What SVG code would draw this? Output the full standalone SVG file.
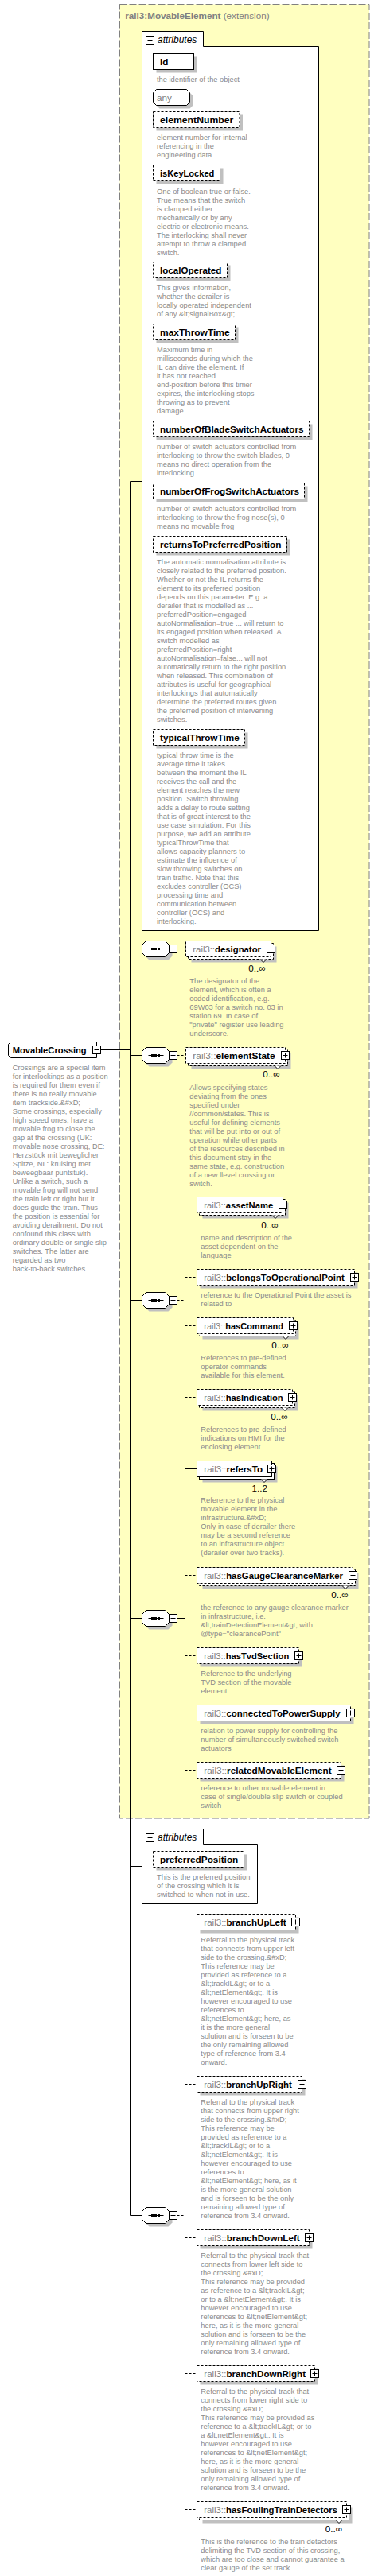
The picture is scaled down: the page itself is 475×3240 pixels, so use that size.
<svg xmlns="http://www.w3.org/2000/svg" xmlns:xlink="http://www.w3.org/1999/xlink" width="475" height="3240" viewBox="0 0 475 3240">
<style>
.d{font-family:"Liberation Sans",Arial,sans-serif;font-size:9.3px;fill:#8a8a8a}
.n{font-family:"Liberation Sans",Arial,sans-serif;font-size:11.7px;font-weight:bold;fill:#000}
.p{font-weight:normal;fill:#808080}
.m{font-family:"Liberation Sans",Arial,sans-serif;font-size:11.7px;fill:#000}
.sh{fill:#c0c0c0;stroke:none}
.bx{fill:#fff;stroke:#000;stroke-width:1}
.dbx{fill:#fff;stroke:#000;stroke-width:1;stroke-dasharray:3,2}
.ln{stroke:#000;stroke-width:1;fill:none}
.dl{stroke:#000;stroke-width:1;fill:none;stroke-dasharray:3,2}
.t{font-family:"Liberation Sans",Arial,sans-serif;font-size:11.7px;fill:#808080}
.at{font-family:"Liberation Sans",Arial,sans-serif;font-size:12px;font-style:italic;fill:#000}
</style>
<defs>
<g id="plus"><rect x="-5" y="-5" width="10" height="10" fill="#fff" stroke="#000"/><path d="M-3,0H3M0,-3V3" stroke="#000"/></g>
<g id="minus"><rect x="-5" y="-5" width="10" height="10" fill="#fff" stroke="#000"/><path d="M-3,0H3" stroke="#000"/></g>
<g id="seq">
<path class="sh" d="M9,-6H33L38,-1V9L33,14H9L4,9V-1Z"/>
<path d="M5,-10H29L34,-5V5L29,10H5L0,5V-5Z" fill="#fff" stroke="#000"/>
<path d="M8,0H27" stroke="#000"/>
<rect x="11.5" y="-1.5" width="3" height="3" fill="#000"/>
<rect x="15.5" y="-1.5" width="3" height="3" fill="#000"/>
<rect x="19.5" y="-1.5" width="3" height="3" fill="#000"/>
<rect x="34" y="-5" width="10" height="10" fill="#fff" stroke="#000"/>
<path d="M36,0H42" stroke="#000"/>
</g>
</defs>
<rect width="475" height="3240" fill="#fff"/>

<g id="movableElement">
<rect x="150.5" y="5.5" width="313.5" height="2281.5" fill="#ffffc0" stroke="#808080" stroke-dasharray="9,3"/>
<text x="157.3" y="24" class="t"><tspan font-weight="bold">rail3:MovableElement</tspan> (extension)</text>
</g>

<g id="connectors">
<path class="ln" d="M126.5,1320.5H163.5"/>
<path class="ln" d="M163.5,605.5V2786.5H178.5"/>
<path class="ln" d="M163.5,605.5H178.5M163.5,1193.5H178.5M163.5,1327.5H178.5M163.5,1635.5H178.5M163.5,2035.5H178.5M163.5,2347.5H178.5"/>
<path class="dl" d="M222.5,1193.5H233.5M222.5,1327.5H233.5"/>
<path class="dl" d="M222.5,1635.5H232.5M232.5,1515.5V1757.5M232.5,1515.5H247.5M232.5,1606.5H247.5M232.5,1667.5H247.5M232.5,1757.5H247.5"/>
<path class="ln" d="M222.5,2035.5H232.5M232.5,1847.5V2035.5M232.5,1847.5H247.5"/>
<path class="dl" d="M232.5,2035.5V2226.5M232.5,1981.5H247.5M232.5,2082.5H247.5M232.5,2154.5H247.5M232.5,2226.5H247.5"/>
<path class="dl" d="M222.5,2786.5H232.5M232.5,2417.5V3156.5M232.5,2417.5H247.5M232.5,2621.5H247.5M232.5,2814.5H247.5M232.5,2985.5H247.5M232.5,3156.5H247.5"/>
</g>

<g id="attributes1">
<path d="M178.5,58.5V39.5H255.5V58.5H400.5V1170.5H178.5Z" class="bx"/>
<use xlink:href="#minus" x="188.5" y="50.5"/>
<text x="198" y="54" class="at">attributes</text>
</g>

<g id="attr-id">
<rect class="sh" x="196.5" y="71.5" width="51" height="20"/>
<rect class="bx" x="192.5" y="67.5" width="51" height="20"/>
<text class="n" x="201" y="82">id</text>
<text class="d" x="197" y="103">the identifier of the object</text>
</g>

<g id="attr-any">
<path class="sh" d="M200.5,116.5H238.5L242.5,120.5V132.5L238.5,136.5H200.5L196.5,132.5V120.5Z"/>
<path class="bx" d="M196.5,112.5H234.5L238.5,116.5V128.5L234.5,132.5H196.5L192.5,128.5V116.5Z"/>
<text class="t" x="197" y="127">any</text>
</g>

<g id="attr-elementNumber">
<rect class="sh" x="196.5" y="144.5" width="108.5" height="20"/>
<rect class="dbx" x="192.5" y="140.5" width="108.5" height="20"/>
<text class="n" x="201" y="155" textLength="92.3" lengthAdjust="spacingAndGlyphs">elementNumber</text>
<text class="d" x="197" y="176"><tspan x="197">element number for internal</tspan><tspan x="197" dy="11">referencing in the</tspan><tspan x="197" dy="11">engineering data</tspan></text>
</g>

<g id="attr-isKeyLocked">
<rect class="sh" x="196.5" y="211.5" width="84" height="20"/>
<rect class="dbx" x="192.5" y="207.5" width="84" height="20"/>
<text class="n" x="201" y="222" textLength="68.3" lengthAdjust="spacingAndGlyphs">isKeyLocked</text>
<text class="d" x="197" y="244"><tspan x="197">One of boolean true or false.</tspan><tspan x="197" dy="10.95">True means that the switch</tspan><tspan x="197" dy="10.95">is clamped either</tspan><tspan x="197" dy="10.95">mechanically or by any</tspan><tspan x="197" dy="10.95">electric or electronic means.</tspan><tspan x="197" dy="10.95">The interlocking shall never</tspan><tspan x="197" dy="10.95">attempt to throw a clamped</tspan><tspan x="197" dy="10.95">switch.</tspan></text>
</g>

<g id="attr-localOperated">
<rect class="sh" x="196.5" y="333.5" width="93" height="20"/>
<rect class="dbx" x="192.5" y="329.5" width="93" height="20"/>
<text class="n" x="201" y="344" textLength="77.3" lengthAdjust="spacingAndGlyphs">localOperated</text>
<text class="d" x="197" y="365"><tspan x="197">This gives information,</tspan><tspan x="197" dy="11">whether the derailer is</tspan><tspan x="197" dy="11">locally operated independent</tspan><tspan x="197" dy="11">of any &amp;lt;signalBox&amp;gt;.</tspan></text>
</g>

<g id="attr-maxThrowTime">
<rect class="sh" x="196.5" y="411.5" width="103" height="20"/>
<rect class="dbx" x="192.5" y="407.5" width="103" height="20"/>
<text class="n" x="201" y="422" textLength="87.7" lengthAdjust="spacingAndGlyphs">maxThrowTime</text>
<text class="d" x="197" y="443"><tspan x="197">Maximum time in</tspan><tspan x="197" dy="11">milliseconds during which the</tspan><tspan x="197" dy="11">IL can drive the element. If</tspan><tspan x="197" dy="11">it has not reached</tspan><tspan x="197" dy="11">end-position before this timer</tspan><tspan x="197" dy="11">expires, the interlocking stops</tspan><tspan x="197" dy="11">throwing as to prevent</tspan><tspan x="197" dy="11">damage.</tspan></text>
</g>

<g id="attr-numberOfBladeSwitchActuators">
<rect class="sh" x="196.5" y="533.5" width="196" height="20"/>
<rect class="dbx" x="192.5" y="529.5" width="196" height="20"/>
<text class="n" x="201" y="544" textLength="180.5" lengthAdjust="spacingAndGlyphs">numberOfBladeSwitchActuators</text>
<text class="d" x="197" y="565"><tspan x="197">number of switch actuators controlled from</tspan><tspan x="197" dy="11">interlocking to throw the switch blades, 0</tspan><tspan x="197" dy="11">means no direct operation from the</tspan><tspan x="197" dy="11">interlocking</tspan></text>
</g>

<g id="attr-numberOfFrogSwitchActuators">
<rect class="sh" x="196.5" y="611.5" width="190" height="20"/>
<rect class="dbx" x="192.5" y="607.5" width="190" height="20"/>
<text class="n" x="201" y="622" textLength="175" lengthAdjust="spacingAndGlyphs">numberOfFrogSwitchActuators</text>
<text class="d" x="197" y="643"><tspan x="197">number of switch actuators controlled from</tspan><tspan x="197" dy="11">interlocking to throw the frog nose(s), 0</tspan><tspan x="197" dy="11">means no movable frog</tspan></text>
</g>

<g id="attr-returnsToPreferredPosition">
<rect class="sh" x="196.5" y="678.5" width="168" height="20"/>
<rect class="dbx" x="192.5" y="674.5" width="168" height="20"/>
<text class="n" x="201" y="689" textLength="152.3" lengthAdjust="spacingAndGlyphs">returnsToPreferredPosition</text>
<text class="d" x="197" y="710"><tspan x="197">The automatic normalisation attribute is</tspan><tspan x="197" dy="11">closely related to the preferred position.</tspan><tspan x="197" dy="11">Whether or not the IL returns the</tspan><tspan x="197" dy="11">element to its preferred position</tspan><tspan x="197" dy="11">depends on this parameter. E.g. a</tspan><tspan x="197" dy="11">derailer that is modelled as ...</tspan><tspan x="197" dy="11">preferredPosition=engaged</tspan><tspan x="197" dy="11">autoNormalisation=true ... will return to</tspan><tspan x="197" dy="11">its engaged position when released. A</tspan><tspan x="197" dy="11">switch modelled as</tspan><tspan x="197" dy="11">preferredPosition=right</tspan><tspan x="197" dy="11">autoNormalisation=false... will not</tspan><tspan x="197" dy="11">automatically return to the right position</tspan><tspan x="197" dy="11">when released. This combination of</tspan><tspan x="197" dy="11">attributes is useful for geographical</tspan><tspan x="197" dy="11">interlockings that automatically</tspan><tspan x="197" dy="11">determine the preferred routes given</tspan><tspan x="197" dy="11">the preferred position of intervening</tspan><tspan x="197" dy="11">switches.</tspan></text>
</g>

<g id="attr-typicalThrowTime">
<rect class="sh" x="196.5" y="921.5" width="115" height="20"/>
<rect class="dbx" x="192.5" y="917.5" width="115" height="20"/>
<text class="n" x="201" y="932" textLength="99.7" lengthAdjust="spacingAndGlyphs">typicalThrowTime</text>
<text class="d" x="197" y="953"><tspan x="197">typical throw time is the</tspan><tspan x="197" dy="11">average time it takes</tspan><tspan x="197" dy="11">between the moment the IL</tspan><tspan x="197" dy="11">receives the call and the</tspan><tspan x="197" dy="11">element reaches the new</tspan><tspan x="197" dy="11">position. Switch throwing</tspan><tspan x="197" dy="11">adds a delay to route setting</tspan><tspan x="197" dy="11">that is of great interest to the</tspan><tspan x="197" dy="11">use case simulation. For this</tspan><tspan x="197" dy="11">purpose, we add an attribute</tspan><tspan x="197" dy="11">typicalThrowTime that</tspan><tspan x="197" dy="11">allows capacity planners to</tspan><tspan x="197" dy="11">estimate the influence of</tspan><tspan x="197" dy="11">slow throwing switches on</tspan><tspan x="197" dy="11">train traffic. Note that this</tspan><tspan x="197" dy="11">excludes controller (OCS)</tspan><tspan x="197" dy="11">processing time and</tspan><tspan x="197" dy="11">communication between</tspan><tspan x="197" dy="11">controller (OCS) and</tspan><tspan x="197" dy="11">interlocking.</tspan></text>
</g>

<g id="seq1"><use xlink:href="#seq" x="178.5" y="1193.5"/></g>
<g id="designator">
<rect class="sh" x="240.5" y="1190.5" width="107" height="20"/>
<rect class="dbx" x="236.5" y="1186.5" width="107" height="20"/>
<rect class="dbx" x="233.5" y="1183.5" width="107" height="20"/>
<path d="M327,1206.5L331,1210.5L335,1206.5" fill="#fff" stroke="#000"/>
<text class="n" x="242.3" y="1198" textLength="85.7" lengthAdjust="spacingAndGlyphs"><tspan class="p">rail3::</tspan>designator</text>
<use xlink:href="#plus" x="340.5" y="1193.5"/>
<text class="m" x="333.5" y="1222" text-anchor="end">0..∞</text>
<text class="d" x="238.3" y="1237"><tspan x="238.3">The designator of the</tspan><tspan x="238.3" dy="11">element, which is often a</tspan><tspan x="238.3" dy="11">coded identification, e.g.</tspan><tspan x="238.3" dy="11">69W03 for a switch no. 03 in</tspan><tspan x="238.3" dy="11">station 69. In case of</tspan><tspan x="238.3" dy="11">"private" register use leading</tspan><tspan x="238.3" dy="11">underscore.</tspan></text>
</g>

<g id="MovableCrossing">
<path class="bx" d="M13.5,1310.5H121.5V1330.5H13.5L10.5,1327.5V1313.5Z"/>
<text class="n" x="15.7" y="1325" textLength="93" lengthAdjust="spacingAndGlyphs">MovableCrossing</text>
<use xlink:href="#minus" x="121.5" y="1320.5"/>
<text class="d" x="15.7" y="1346"><tspan x="15.7">Crossings are a special item</tspan><tspan x="15.7" dy="11">for interlockings as a position</tspan><tspan x="15.7" dy="11">is required for them even if</tspan><tspan x="15.7" dy="11">there is no really movable</tspan><tspan x="15.7" dy="11">item trackside.&amp;#xD;</tspan><tspan x="15.7" dy="11">Some crossings, especially</tspan><tspan x="15.7" dy="11">high speed ones, have a</tspan><tspan x="15.7" dy="11">movable frog to close the</tspan><tspan x="15.7" dy="11">gap at the crossing (UK:</tspan><tspan x="15.7" dy="11">movable nose crossing, DE:</tspan><tspan x="15.7" dy="11">Herzstück mit beweglicher</tspan><tspan x="15.7" dy="11">Spitze, NL: kruising met</tspan><tspan x="15.7" dy="11">beweegbaar puntstuk).</tspan><tspan x="15.7" dy="11">Unlike a switch, such a</tspan><tspan x="15.7" dy="11">movable frog will not send</tspan><tspan x="15.7" dy="11">the train left or right but it</tspan><tspan x="15.7" dy="11">does guide the train. Thus</tspan><tspan x="15.7" dy="11">the position is essential for</tspan><tspan x="15.7" dy="11">avoiding derailment. Do not</tspan><tspan x="15.7" dy="11">confound this class with</tspan><tspan x="15.7" dy="11">ordinary double or single slip</tspan><tspan x="15.7" dy="11">switches. The latter are</tspan><tspan x="15.7" dy="11">regarded as two</tspan><tspan x="15.7" dy="11">back-to-back switches.</tspan></text>
</g>

<g id="seq2"><use xlink:href="#seq" x="178.5" y="1327.5"/></g>
<g id="elementState">
<rect class="sh" x="240.5" y="1324.5" width="125" height="20"/>
<rect class="dbx" x="236.5" y="1320.5" width="125" height="20"/>
<rect class="dbx" x="233.5" y="1317.5" width="125" height="20"/>
<path d="M345,1340.5L349,1344.5L353,1340.5" fill="#fff" stroke="#000"/>
<text class="n" x="242.3" y="1332" textLength="103.4" lengthAdjust="spacingAndGlyphs"><tspan class="p">rail3::</tspan>elementState</text>
<use xlink:href="#plus" x="358.5" y="1327.5"/>
<text class="m" x="351.5" y="1355" text-anchor="end">0..∞</text>
<text class="d" x="238.3" y="1371"><tspan x="238.3">Allows specifying states</tspan><tspan x="238.3" dy="11">deviating from the ones</tspan><tspan x="238.3" dy="11">specified under</tspan><tspan x="238.3" dy="11">//common/states. This is</tspan><tspan x="238.3" dy="11">useful for defining elements</tspan><tspan x="238.3" dy="11">that will be put into or out of</tspan><tspan x="238.3" dy="11">operation while other parts</tspan><tspan x="238.3" dy="11">of the resources described in</tspan><tspan x="238.3" dy="11">this document stay in the</tspan><tspan x="238.3" dy="11">same state, e.g. construction</tspan><tspan x="238.3" dy="11">of a new llevel crossing or</tspan><tspan x="238.3" dy="11">switch.</tspan></text>
</g>

<g id="seq3"><use xlink:href="#seq" x="178.5" y="1635.5"/></g>
<g id="assetName">
<rect class="sh" x="254.5" y="1512.5" width="108" height="20"/>
<rect class="dbx" x="250.5" y="1508.5" width="108" height="20"/>
<rect class="dbx" x="247.5" y="1505.5" width="108" height="20"/>
<path d="M342,1528.5L346,1532.5L350,1528.5" fill="#fff" stroke="#000"/>
<text class="n" x="256.3" y="1520" textLength="87" lengthAdjust="spacingAndGlyphs"><tspan class="p">rail3::</tspan>assetName</text>
<use xlink:href="#plus" x="355.5" y="1515.5"/>
<text class="m" x="349.5" y="1545" text-anchor="end">0..∞</text>
<text class="d" x="252.3" y="1560"><tspan x="252.3">name and description of the</tspan><tspan x="252.3" dy="11">asset dependent on the</tspan><tspan x="252.3" dy="11">language</tspan></text>
</g>

<g id="belongsToOperationalPoint">
<rect class="sh" x="251.5" y="1600.5" width="198" height="20"/>
<rect class="dbx" x="247.5" y="1596.5" width="198" height="20"/>
<text class="n" x="256.3" y="1611" textLength="176.4" lengthAdjust="spacingAndGlyphs"><tspan class="p">rail3::</tspan>belongsToOperationalPoint</text>
<use xlink:href="#plus" x="445.5" y="1606.5"/>
<text class="d" x="252.3" y="1631.5"><tspan x="252.3">reference to the Operational Point the asset is</tspan><tspan x="252.3" dy="11">related to</tspan></text>
</g>

<g id="hasCommand">
<rect class="sh" x="254.5" y="1664.5" width="121" height="20"/>
<rect class="dbx" x="250.5" y="1660.5" width="121" height="20"/>
<rect class="dbx" x="247.5" y="1657.5" width="121" height="20"/>
<path d="M355,1680.5L359,1684.5L363,1680.5" fill="#fff" stroke="#000"/>
<text class="n" x="256.3" y="1672" textLength="99.7" lengthAdjust="spacingAndGlyphs"><tspan class="p">rail3::</tspan>hasCommand</text>
<use xlink:href="#plus" x="368.5" y="1667.5"/>
<text class="m" x="362.5" y="1696" text-anchor="end">0..∞</text>
<text class="d" x="252.3" y="1711"><tspan x="252.3">References to pre-defined</tspan><tspan x="252.3" dy="11">operator commands</tspan><tspan x="252.3" dy="11">available for this element.</tspan></text>
</g>

<g id="hasIndication">
<rect class="sh" x="254.5" y="1754.5" width="120" height="20"/>
<rect class="dbx" x="250.5" y="1750.5" width="120" height="20"/>
<rect class="dbx" x="247.5" y="1747.5" width="120" height="20"/>
<path d="M354,1770.5L358,1774.5L362,1770.5" fill="#fff" stroke="#000"/>
<text class="n" x="256.3" y="1762" textLength="99.4" lengthAdjust="spacingAndGlyphs"><tspan class="p">rail3::</tspan>hasIndication</text>
<use xlink:href="#plus" x="367.5" y="1757.5"/>
<text class="m" x="361.5" y="1786" text-anchor="end">0..∞</text>
<text class="d" x="252.3" y="1800.5"><tspan x="252.3">References to pre-defined</tspan><tspan x="252.3" dy="11">indications on HMI for the</tspan><tspan x="252.3" dy="11">enclosing element.</tspan></text>
</g>

<g id="seq4"><use xlink:href="#seq" x="178.5" y="2035.5"/></g>
<g id="refersTo">
<rect class="sh" x="254.5" y="1844.5" width="94" height="20"/>
<rect class="bx" x="250.5" y="1840.5" width="94" height="20"/>
<rect class="bx" x="247.5" y="1837.5" width="94" height="20"/>
<path d="M328,1860.5L332,1864.5L336,1860.5" fill="#fff" stroke="#000"/>
<text class="n" x="256.3" y="1852" textLength="73.7" lengthAdjust="spacingAndGlyphs"><tspan class="p">rail3::</tspan>refersTo</text>
<use xlink:href="#plus" x="341.5" y="1847.5"/>
<text class="m" x="336" y="1876" text-anchor="end">1..2</text>
<text class="d" x="252.3" y="1890"><tspan x="252.3">Reference to the physical</tspan><tspan x="252.3" dy="11">movable element in the</tspan><tspan x="252.3" dy="11">infrastructure.&amp;#xD;</tspan><tspan x="252.3" dy="11">Only in case of derailer there</tspan><tspan x="252.3" dy="11">may be a second reference</tspan><tspan x="252.3" dy="11">to an infrastructure object</tspan><tspan x="252.3" dy="11">(derailer over two tracks).</tspan></text>
</g>

<g id="hasGaugeClearanceMarker">
<rect class="sh" x="254.5" y="1978.5" width="196" height="20"/>
<rect class="dbx" x="250.5" y="1974.5" width="196" height="20"/>
<rect class="dbx" x="247.5" y="1971.5" width="196" height="20"/>
<path d="M430,1994.5L434,1998.5L438,1994.5" fill="#fff" stroke="#000"/>
<text class="n" x="256.3" y="1986" textLength="174.7" lengthAdjust="spacingAndGlyphs"><tspan class="p">rail3::</tspan>hasGaugeClearanceMarker</text>
<use xlink:href="#plus" x="443.5" y="1981.5"/>
<text class="m" x="437.7" y="2010" text-anchor="end">0..∞</text>
<text class="d" x="252.3" y="2025"><tspan x="252.3">the reference to any gauge clearance marker</tspan><tspan x="252.3" dy="11">in infrastructure, i.e.</tspan><tspan x="252.3" dy="11">&amp;lt;trainDetectionElement&amp;gt; with</tspan><tspan x="252.3" dy="11">@type="clearancePoint"</tspan></text>
</g>

<g id="hasTvdSection">
<rect class="sh" x="251.5" y="2076.5" width="128" height="20"/>
<rect class="dbx" x="247.5" y="2072.5" width="128" height="20"/>
<text class="n" x="256.3" y="2087" textLength="107" lengthAdjust="spacingAndGlyphs"><tspan class="p">rail3::</tspan>hasTvdSection</text>
<use xlink:href="#plus" x="375.5" y="2082.5"/>
<text class="d" x="252.3" y="2107.5"><tspan x="252.3">Reference to the underlying</tspan><tspan x="252.3" dy="11">TVD section of the movable</tspan><tspan x="252.3" dy="11">element</tspan></text>
</g>

<g id="connectedToPowerSupply">
<rect class="sh" x="251.5" y="2148.5" width="193" height="20"/>
<rect class="dbx" x="247.5" y="2144.5" width="193" height="20"/>
<text class="n" x="256.3" y="2159" textLength="171.4" lengthAdjust="spacingAndGlyphs"><tspan class="p">rail3::</tspan>connectedToPowerSupply</text>
<use xlink:href="#plus" x="440.5" y="2154.5"/>
<text class="d" x="252.3" y="2180"><tspan x="252.3">relation to power supply for controlling the</tspan><tspan x="252.3" dy="11">number of simultaneously switched switch</tspan><tspan x="252.3" dy="11">actuators</tspan></text>
</g>

<g id="relatedMovableElement">
<rect class="sh" x="251.5" y="2220.5" width="181" height="20"/>
<rect class="dbx" x="247.5" y="2216.5" width="181" height="20"/>
<text class="n" x="256.3" y="2231" textLength="160.4" lengthAdjust="spacingAndGlyphs"><tspan class="p">rail3::</tspan>relatedMovableElement</text>
<use xlink:href="#plus" x="428.5" y="2226.5"/>
<text class="d" x="252.3" y="2252"><tspan x="252.3">reference to other movable element in</tspan><tspan x="252.3" dy="11">case of single/double slip switch or coupled</tspan><tspan x="252.3" dy="11">switch</tspan></text>
</g>

<g id="attributes2">
<path d="M178.5,2319.5V2300.5H255.5V2319.5H323.5V2394.5H178.5Z" class="bx"/>
<use xlink:href="#minus" x="188.5" y="2311.5"/>
<text x="198" y="2315" class="at">attributes</text>
</g>

<g id="attr-preferredPosition">
<rect class="sh" x="196.5" y="2332.5" width="114" height="20"/>
<rect class="dbx" x="192.5" y="2328.5" width="114" height="20"/>
<text class="n" x="201" y="2343" textLength="98.3" lengthAdjust="spacingAndGlyphs">preferredPosition</text>
<text class="d" x="197" y="2364"><tspan x="197">This is the preferred position</tspan><tspan x="197" dy="11">of the crossing which it is</tspan><tspan x="197" dy="11">switched to when not in use.</tspan></text>
</g>

<g id="seq5"><use xlink:href="#seq" x="178.5" y="2786.5"/></g>
<g id="branchUpLeft">
<rect class="sh" x="251.5" y="2411.5" width="124" height="20"/>
<rect class="dbx" x="247.5" y="2407.5" width="124" height="20"/>
<text class="n" x="256.3" y="2422" textLength="103.4" lengthAdjust="spacingAndGlyphs"><tspan class="p">rail3::</tspan>branchUpLeft</text>
<use xlink:href="#plus" x="371.5" y="2417.5"/>
<text class="d" x="252.3" y="2443"><tspan x="252.3">Referral to the physical track</tspan><tspan x="252.3" dy="11">that connects from upper left</tspan><tspan x="252.3" dy="11">side to the crossing.&amp;#xD;</tspan><tspan x="252.3" dy="11">This reference may be</tspan><tspan x="252.3" dy="11">provided as reference to a</tspan><tspan x="252.3" dy="11">&amp;lt;trackIL&amp;gt; or to a</tspan><tspan x="252.3" dy="11">&amp;lt;netElement&amp;gt;. It is</tspan><tspan x="252.3" dy="11">however encouraged to use</tspan><tspan x="252.3" dy="11">references to</tspan><tspan x="252.3" dy="11">&amp;lt;netElement&amp;gt; here, as</tspan><tspan x="252.3" dy="11">it is the more general</tspan><tspan x="252.3" dy="11">solution and is forseen to be</tspan><tspan x="252.3" dy="11">the only remaining allowed</tspan><tspan x="252.3" dy="11">type of reference from 3.4</tspan><tspan x="252.3" dy="11">onward.</tspan></text>
</g>

<g id="branchUpRight">
<rect class="sh" x="251.5" y="2615.5" width="132" height="20"/>
<rect class="dbx" x="247.5" y="2611.5" width="132" height="20"/>
<text class="n" x="256.3" y="2626" textLength="110.4" lengthAdjust="spacingAndGlyphs"><tspan class="p">rail3::</tspan>branchUpRight</text>
<use xlink:href="#plus" x="379.5" y="2621.5"/>
<text class="d" x="252.3" y="2646.5"><tspan x="252.3">Referral to the physical track</tspan><tspan x="252.3" dy="11">that connects from upper right</tspan><tspan x="252.3" dy="11">side to the crossing.&amp;#xD;</tspan><tspan x="252.3" dy="11">This reference may be</tspan><tspan x="252.3" dy="11">provided as reference to a</tspan><tspan x="252.3" dy="11">&amp;lt;trackIL&amp;gt; or to a</tspan><tspan x="252.3" dy="11">&amp;lt;netElement&amp;gt;. It is</tspan><tspan x="252.3" dy="11">however encouraged to use</tspan><tspan x="252.3" dy="11">references to</tspan><tspan x="252.3" dy="11">&amp;lt;netElement&amp;gt; here, as it</tspan><tspan x="252.3" dy="11">is the more general solution</tspan><tspan x="252.3" dy="11">and is forseen to be the only</tspan><tspan x="252.3" dy="11">remaining allowed type of</tspan><tspan x="252.3" dy="11">reference from 3.4 onward.</tspan></text>
</g>

<g id="branchDownLeft">
<rect class="sh" x="251.5" y="2808.5" width="141" height="20"/>
<rect class="dbx" x="247.5" y="2804.5" width="141" height="20"/>
<text class="n" x="256.3" y="2819" textLength="120.4" lengthAdjust="spacingAndGlyphs"><tspan class="p">rail3::</tspan>branchDownLeft</text>
<use xlink:href="#plus" x="388.5" y="2814.5"/>
<text class="d" x="252.3" y="2840"><tspan x="252.3">Referral to the physical track that</tspan><tspan x="252.3" dy="11">connects from lower left side to</tspan><tspan x="252.3" dy="11">the crossing.&amp;#xD;</tspan><tspan x="252.3" dy="11">This reference may be provided</tspan><tspan x="252.3" dy="11">as reference to a &amp;lt;trackIL&amp;gt;</tspan><tspan x="252.3" dy="11">or to a &amp;lt;netElement&amp;gt;. It is</tspan><tspan x="252.3" dy="11">however encouraged to use</tspan><tspan x="252.3" dy="11">references to &amp;lt;netElement&amp;gt;</tspan><tspan x="252.3" dy="11">here, as it is the more general</tspan><tspan x="252.3" dy="11">solution and is forseen to be the</tspan><tspan x="252.3" dy="11">only remaining allowed type of</tspan><tspan x="252.3" dy="11">reference from 3.4 onward.</tspan></text>
</g>

<g id="branchDownRight">
<rect class="sh" x="251.5" y="2979.5" width="148" height="20"/>
<rect class="dbx" x="247.5" y="2975.5" width="148" height="20"/>
<text class="n" x="256.3" y="2990" textLength="127.7" lengthAdjust="spacingAndGlyphs"><tspan class="p">rail3::</tspan>branchDownRight</text>
<use xlink:href="#plus" x="395.5" y="2985.5"/>
<text class="d" x="252.3" y="3011"><tspan x="252.3">Referral to the physical track that</tspan><tspan x="252.3" dy="11">connects from lower right side to</tspan><tspan x="252.3" dy="11">the crossing.&amp;#xD;</tspan><tspan x="252.3" dy="11">This reference may be provided as</tspan><tspan x="252.3" dy="11">reference to a &amp;lt;trackIL&amp;gt; or to</tspan><tspan x="252.3" dy="11">a &amp;lt;netElement&amp;gt;. It is</tspan><tspan x="252.3" dy="11">however encouraged to use</tspan><tspan x="252.3" dy="11">references to &amp;lt;netElement&amp;gt;</tspan><tspan x="252.3" dy="11">here, as it is the more general</tspan><tspan x="252.3" dy="11">solution and is forseen to be the</tspan><tspan x="252.3" dy="11">only remaining allowed type of</tspan><tspan x="252.3" dy="11">reference from 3.4 onward.</tspan></text>
</g>

<g id="hasFoulingTrainDetectors">
<rect class="sh" x="254.5" y="3153.5" width="188" height="20"/>
<rect class="dbx" x="250.5" y="3149.5" width="188" height="20"/>
<rect class="dbx" x="247.5" y="3146.5" width="188" height="20"/>
<path d="M422,3169.5L426,3173.5L430,3169.5" fill="#fff" stroke="#000"/>
<text class="n" x="256.3" y="3161" textLength="167.7" lengthAdjust="spacingAndGlyphs"><tspan class="p">rail3::</tspan>hasFoulingTrainDetectors</text>
<use xlink:href="#plus" x="435.5" y="3156.5"/>
<text class="m" x="430" y="3185" text-anchor="end">0..∞</text>
<text class="d" x="252.3" y="3200"><tspan x="252.3">This is the reference to the train detectors</tspan><tspan x="252.3" dy="11">delimiting the TVD section of this crossing,</tspan><tspan x="252.3" dy="11">which are too close and cannot guarantee a</tspan><tspan x="252.3" dy="11">clear gauge of the set track.</tspan></text>
</g>
</svg>
